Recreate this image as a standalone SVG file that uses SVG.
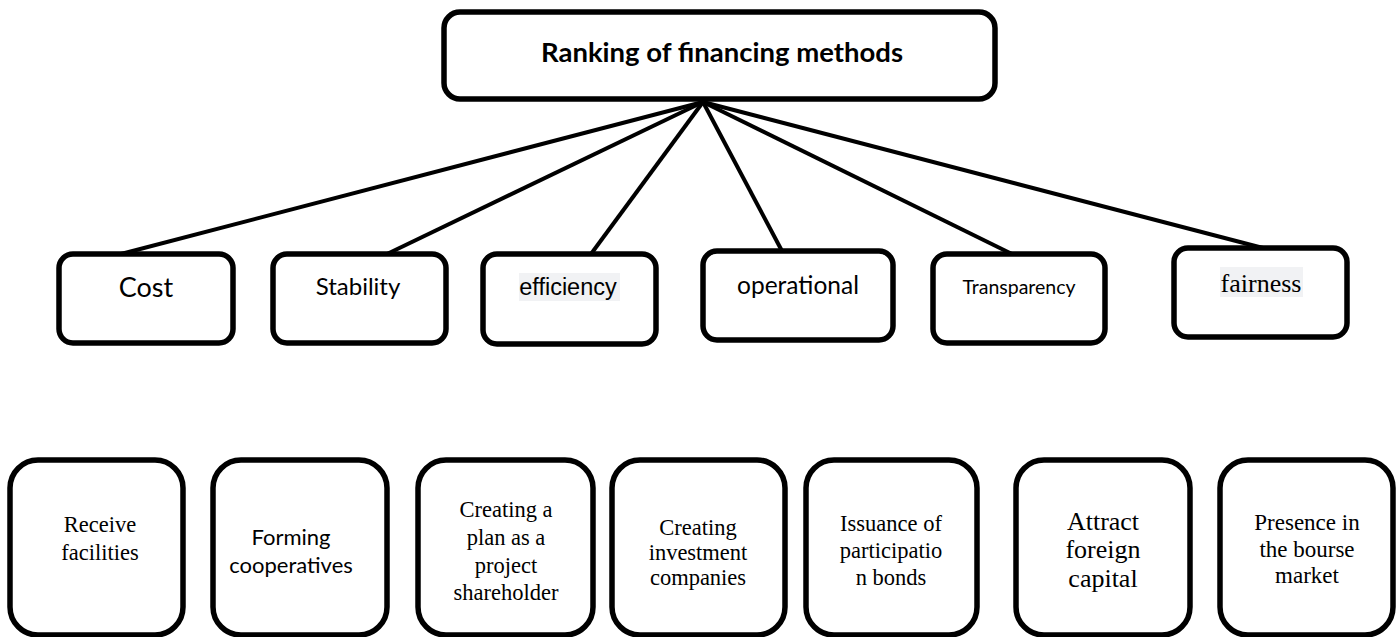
<svg xmlns="http://www.w3.org/2000/svg" width="1400" height="637" viewBox="0 0 1400 637">
<style>
.box{fill:#fff;stroke:#000;stroke-width:5.5}
.conn{stroke:#000;stroke-width:4;fill:none}
.sans{font-family:"Lato","Liberation Sans",sans-serif;fill:#000}
.arial{font-family:"Liberation Sans",Arial,sans-serif;fill:#000}
.serif{font-family:"Liberation Serif","Times New Roman",serif;fill:#000}
.hl{fill:#f1f2f4}
</style>
<rect width="1400" height="637" fill="#fff"/>
<g id="connectors">
<line class="conn" x1="703" y1="102" x2="121" y2="254"/>
<line class="conn" x1="703" y1="102" x2="387" y2="254"/>
<line class="conn" x1="703" y1="102" x2="591" y2="254"/>
<line class="conn" x1="703" y1="102" x2="782" y2="251"/>
<line class="conn" x1="703" y1="102" x2="1012" y2="254"/>
<line class="conn" x1="703" y1="102" x2="1263" y2="248"/>
</g>
<g id="root">
<rect class="box" x="444" y="12" width="551" height="87" rx="16"/>
<text class="sans" x="722" y="62" font-size="27.5" font-weight="bold" text-anchor="middle">Ranking of financing methods</text>
</g>
<g id="cost">
<rect class="box" x="59" y="254" width="174" height="89" rx="14"/>
<text class="sans" x="146" y="297" font-size="27" text-anchor="middle">Cost</text>
</g>
<g id="stability">
<rect class="box" x="273" y="254" width="173" height="89" rx="14"/>
<text class="sans" x="358" y="295" font-size="24" text-anchor="middle">Stability</text>
</g>
<g id="efficiency">
<rect class="box" x="483" y="254" width="173" height="90" rx="14"/>
<rect class="hl" x="519" y="273" width="101" height="28"/>
<text class="arial" x="568" y="295" font-size="23.5" text-anchor="middle">efficiency</text>
</g>
<g id="operational">
<rect class="box" x="703" y="251" width="190" height="89" rx="14"/>
<text class="sans" x="798" y="294" font-size="24.5" text-anchor="middle">operational</text>
</g>
<g id="transparency">
<rect class="box" x="933" y="254" width="172" height="89" rx="14"/>
<text class="sans" x="1019" y="294" font-size="19.5" text-anchor="middle">Transparency</text>
</g>
<g id="fairness">
<rect class="box" x="1174" y="248" width="173" height="89" rx="14"/>
<rect class="hl" x="1220" y="267" width="83" height="30"/>
<text class="serif" x="1261" y="292" font-size="26" text-anchor="middle">fairness</text>
</g>
<g id="receive">
<rect class="box" x="10" y="460" width="173" height="175" rx="28"/>
<text class="serif" font-size="22.5" text-anchor="middle"><tspan x="100" y="532">Receive</tspan><tspan x="100" y="560">facilities</tspan></text>
</g>
<g id="cooperatives">
<rect class="box" x="213" y="460" width="174" height="175" rx="28"/>
<text class="sans" font-size="22" text-anchor="middle"><tspan x="291" y="545">Forming</tspan><tspan x="291" y="573">cooperatives</tspan></text>
</g>
<g id="shareholder">
<rect class="box" x="418" y="460" width="175" height="175" rx="28"/>
<text class="serif" font-size="22.5" text-anchor="middle"><tspan x="506" y="517">Creating a</tspan><tspan x="506" y="545">plan as a</tspan><tspan x="506" y="573">project</tspan><tspan x="506" y="600">shareholder</tspan></text>
</g>
<g id="investment">
<rect class="box" x="612" y="460" width="173" height="175" rx="28"/>
<text class="serif" font-size="22.5" text-anchor="middle"><tspan x="698" y="535">Creating</tspan><tspan x="698" y="560">investment</tspan><tspan x="698" y="585">companies</tspan></text>
</g>
<g id="bonds">
<rect class="box" x="806" y="460" width="171" height="175" rx="28"/>
<text class="serif" font-size="22.5" text-anchor="middle"><tspan x="891" y="531">Issuance of</tspan><tspan x="891" y="558">participatio</tspan><tspan x="891" y="585">n bonds</tspan></text>
</g>
<g id="foreign">
<rect class="box" x="1016" y="460" width="174" height="175" rx="28"/>
<text class="serif" font-size="26" text-anchor="middle"><tspan x="1103" y="530">Attract</tspan><tspan x="1103" y="558">foreign</tspan><tspan x="1103" y="587">capital</tspan></text>
</g>
<g id="bourse">
<rect class="box" x="1220" y="460" width="173" height="175" rx="28"/>
<text class="serif" font-size="23" text-anchor="middle"><tspan x="1307" y="530">Presence in</tspan><tspan x="1307" y="557">the bourse</tspan><tspan x="1307" y="583">market</tspan></text>
</g>
</svg>
